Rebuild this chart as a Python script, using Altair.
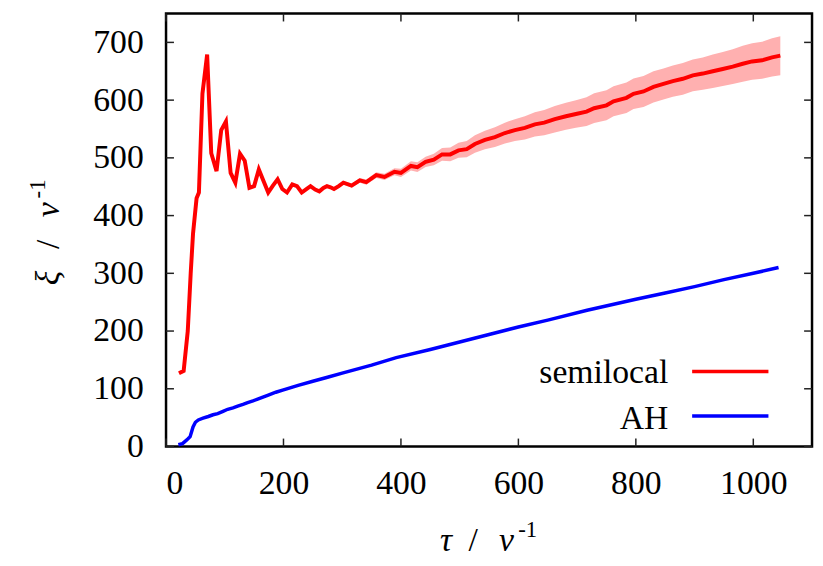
import altair as alt
import pandas as pd

# ---- data ----
sem_x = [22, 30, 37, 42, 46, 52, 56, 62, 70, 77, 86, 94, 102, 110, 118, 126, 134, 142, 150, 158,
         166, 174, 182, 190, 198, 206, 215, 223, 231, 239, 246, 254, 261, 268, 274, 280, 286, 294,
         302, 316, 330, 341, 358, 372, 389, 400, 417, 428, 442, 456, 470, 484, 498, 512, 526, 543,
         560, 577, 594, 611, 628, 644, 662, 681, 698, 716, 729, 750, 762, 784, 796, 813, 830, 847,
         863, 880, 897, 914, 931, 948, 965, 982, 998, 1015, 1032, 1046]
sem_y = [127, 131, 200, 300, 369, 430, 440, 611, 679, 508, 477, 548, 563, 474, 457, 507, 495, 448, 451, 480,
         460, 440, 452, 463, 446, 440, 454, 451, 440, 446, 451, 445, 442, 448, 451, 449, 446, 451,
         457, 452, 461, 458, 470, 467, 476, 474, 486, 484, 493, 497, 506, 506, 513, 515, 524, 531,
         536, 543, 548, 552, 558, 561, 567, 572, 576, 580, 586, 591, 598, 604, 611, 615, 623, 628,
         633, 637, 643, 646, 650, 654, 658, 663, 667, 669, 674, 677]
sem_err = [1, 1, 1, 1, 1, 1, 1, 1, 1, 1, 1, 1, 1, 1, 1, 1, 1, 1.5, 1.5, 1.5,
           1.5, 1.5, 1.5, 1.5, 1.5, 1.5, 2, 2, 2, 2, 2, 2.5, 2.5, 2.5, 2.5, 3, 3, 3,
           3, 3.5, 4, 4.5, 5, 5.5, 6, 7, 8, 8.5, 9, 10, 11, 12, 13, 14, 15, 16,
           17, 18, 19, 20, 21, 22, 23, 23.5, 24, 25, 25.7, 26, 26, 26.5, 26.5, 27, 27, 27,
           27, 27.5, 27.5, 28, 29, 29.5, 30, 31, 31.5, 32, 33, 33.8]

ah_x = [21, 28, 32, 37, 41, 46, 50, 55, 63, 72, 80, 88, 97, 105, 114, 122, 131, 139, 148, 156,
        165, 173, 187, 200, 225, 250, 275, 300, 350, 392, 450, 500, 550, 600, 650, 717, 800,
        850, 900, 950, 1000, 1043]
ah_y = [3, 5, 8.5, 13, 17, 34, 42, 46, 49, 52, 55, 57, 61, 64.5, 67, 70, 73, 76, 79, 82,
        85.5, 88.5, 94, 98, 106, 113, 120, 127, 141, 154, 168, 181, 194, 207, 219, 236, 255,
        266, 277, 289, 300, 310]

x_ticks = [0, 200, 400, 600, 800, 1000]
y_ticks = [0, 100, 200, 300, 400, 500, 600, 700]
legend_labels = ["semilocal", "AH"]
legend_colors = ["#ff0000", "#0000ff"]
x_title_parts = ["τ", "/", "v", "-1"]
y_title_parts = ["ξ", "/", "v", "-1"]

W, H = 652, 437
FONT = "Liberation Serif"
FS = 34
SUP = 23

sem = pd.DataFrame({"x": sem_x, "y": sem_y, "err": sem_err})
sem["lo"] = sem["y"] - sem["err"]
sem["hi"] = sem["y"] + sem["err"]
ah = pd.DataFrame({"x": ah_x, "y": ah_y})

xs = alt.Scale(domain=[0, 1100], nice=False, zero=False)
ys = alt.Scale(domain=[0, 750], nice=False, zero=False)

x_axis = alt.Axis(values=x_ticks, title="", format="d", ticks=False, tickSize=0, domain=False, grid=False,
                  labelFont=FONT, labelFontSize=FS, labelColor="black", labelPadding=20)
y_axis = alt.Axis(values=y_ticks, title="", format="d", ticks=False, tickSize=0, domain=False, grid=False,
                  labelFont=FONT, labelFontSize=FS, labelColor="black", labelPadding=23)


def X(field):
    return alt.X(field, scale=xs, axis=x_axis)


def Y(field):
    return alt.Y(field, scale=ys, axis=y_axis)


band = alt.Chart(sem).mark_area(color="#ffb0b0", opacity=1).encode(
    x=X("x:Q"), y=Y("lo:Q"), y2="hi:Q")
red = alt.Chart(sem).mark_line(color="#ff0000", strokeWidth=4).encode(
    x=X("x:Q"), y=Y("y:Q"))
blue = alt.Chart(ah).mark_line(color="#0000ff", strokeWidth=3.5).encode(
    x=X("x:Q"), y=Y("y:Q"))

xt = pd.DataFrame({"t": x_ticks})
yt = pd.DataFrame({"t": y_ticks})
TL = 8
tick_style = dict(color="#222222", strokeWidth=1.5)
tb = alt.Chart(xt).mark_rule(**tick_style).encode(
    x=X("t:Q"), y=alt.value(H), y2=alt.value(H - TL))
tt = alt.Chart(xt).mark_rule(**tick_style).encode(
    x=X("t:Q"), y=alt.value(0), y2=alt.value(TL))
tl = alt.Chart(yt).mark_rule(**tick_style).encode(
    y=Y("t:Q"), x=alt.value(0), x2=alt.value(TL))
tr = alt.Chart(yt).mark_rule(**tick_style).encode(
    y=Y("t:Q"), x=alt.value(W), x2=alt.value(W - TL))

leg_layers = []
leg_rows = [(361.3, 373), (406.3, 419)]
for (ly, tyb), lab, col in zip(leg_rows, legend_labels, legend_colors):
    d = pd.DataFrame({"label": [lab]})
    leg_layers.append(alt.Chart(d).mark_rule(color=col, strokeWidth=3.5).encode(
        x=alt.value(531), x2=alt.value(608), y=alt.value(ly)))
    leg_layers.append(alt.Chart(d).mark_text(font=FONT, fontSize=FS, align="right",
                                             baseline="alphabetic", color="black").encode(
        text="label:N", x=alt.value(507), y=alt.value(tyb)))

# axis titles composed of parts (italic symbols, upright slash, raised superscript)
one = pd.DataFrame({"k": [0]})
title_layers = []
# x title: (center x, baseline y, size, style)
x_pos = [(282.5, H + 105, FS, "italic"), (310, H + 105, FS, "normal"),
         (343.5, H + 105, FS, "italic"), (365, H + 91, SUP, "normal")]
for txt, (px, py, fs, st) in zip(x_title_parts, x_pos):
    title_layers.append(alt.Chart(one).mark_text(
        text=txt, font=FONT, fontSize=fs, fontStyle=st, align="center", baseline="alphabetic",
        color="black").encode(x=alt.value(px), y=alt.value(py)))
# y title, rotated: (baseline x, center y, size, style)
y_pos = [(-108.5, 267, FS, "italic"), (-108.5, 233, FS, "normal"),
         (-108.5, 198, FS, "italic"), (-122, 177, SUP, "normal")]
for txt, (px, py, fs, st) in zip(y_title_parts, y_pos):
    title_layers.append(alt.Chart(one).mark_text(
        text=txt, font=FONT, fontSize=fs, fontStyle=st, align="center", baseline="alphabetic",
        angle=270, color="black").encode(x=alt.value(px), y=alt.value(py)))

chart = alt.layer(band, red, blue, tb, tt, tl, tr, *leg_layers, *title_layers).properties(
    width=W, height=H,
    autosize=alt.AutoSizeParams(type="none"),
    padding={"left": 159.5, "top": 3, "right": 3, "bottom": 116},
    background="white",
).configure_view(stroke="black", strokeWidth=2.5)

chart.save("out.html", embed_options={"renderer": "svg", "actions": False})
